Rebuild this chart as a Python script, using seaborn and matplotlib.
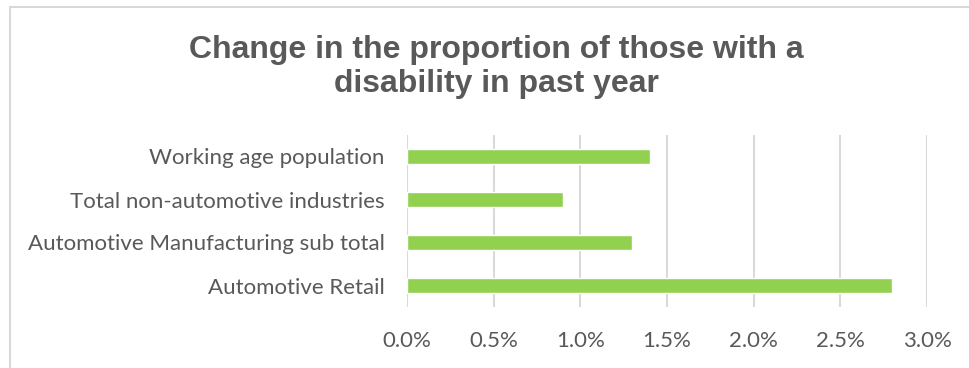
import matplotlib
matplotlib.use("Agg")
import matplotlib.pyplot as plt
import seaborn as sns
import pandas as pd
from matplotlib.ticker import FuncFormatter
from matplotlib.lines import Line2D

categories = ["Working age population", "Total non-automotive industries",
              "Automotive Manufacturing sub total", "Automotive Retail"]
values = [1.4, 0.9, 1.3, 2.8]
xticks = [0.0, 0.5, 1.0, 1.5, 2.0, 2.5, 3.0]
title = "Change in the proportion of those with a\ndisability in past year"

df = pd.DataFrame({"category": categories, "value": values})

sns.set_theme(style="white")
plt.rcParams['font.family'] = ['Lato', 'DejaVu Sans']

W, H = 970, 368
fig = plt.figure(figsize=(W / 100, H / 100), dpi=100)
ax = fig.add_axes([407 / W, (H - 307) / H, (927 - 407) / W, (307 - 135) / H])

sns.barplot(data=df, x="value", y="category", order=categories, color="#92D050",
            saturation=1, width=0.35, ax=ax)

ax.set_xlim(0, 3.0)
ax.set_ylim(3.5, -0.5)
ax.set_xticks(xticks)
ax.xaxis.set_major_formatter(FuncFormatter(lambda v, p: f"{v:.1f}%"))
ax.grid(axis="x", color="#D9D9D9", linewidth=1.5)
ax.set_axisbelow(True)
for s in ax.spines.values():
    s.set_visible(False)
ax.set_xlabel("")
ax.set_ylabel("")
ax.tick_params(axis="both", length=0, labelsize=16, labelcolor="#595959")
ax.tick_params(axis="x", pad=17)
ax.tick_params(axis="y", pad=16)

fig.text(496 / W, 1 - 67 / H, title, ha="center", va="center", fontsize=23,
         fontweight="bold", color="#595959", family=["Liberation Sans", "DejaVu Sans"],
         linespacing=1.2)

# chart border (top and left visible)
fig.add_artist(Line2D([10 / W, 10 / W], [0, 1 - 7 / H], transform=fig.transFigure,
                      color="#D9D9D9", linewidth=1.5))
fig.add_artist(Line2D([10 / W, 1], [1 - 7 / H, 1 - 7 / H], transform=fig.transFigure,
                      color="#D9D9D9", linewidth=1.5))

fig.savefig("out.png", dpi=100)
